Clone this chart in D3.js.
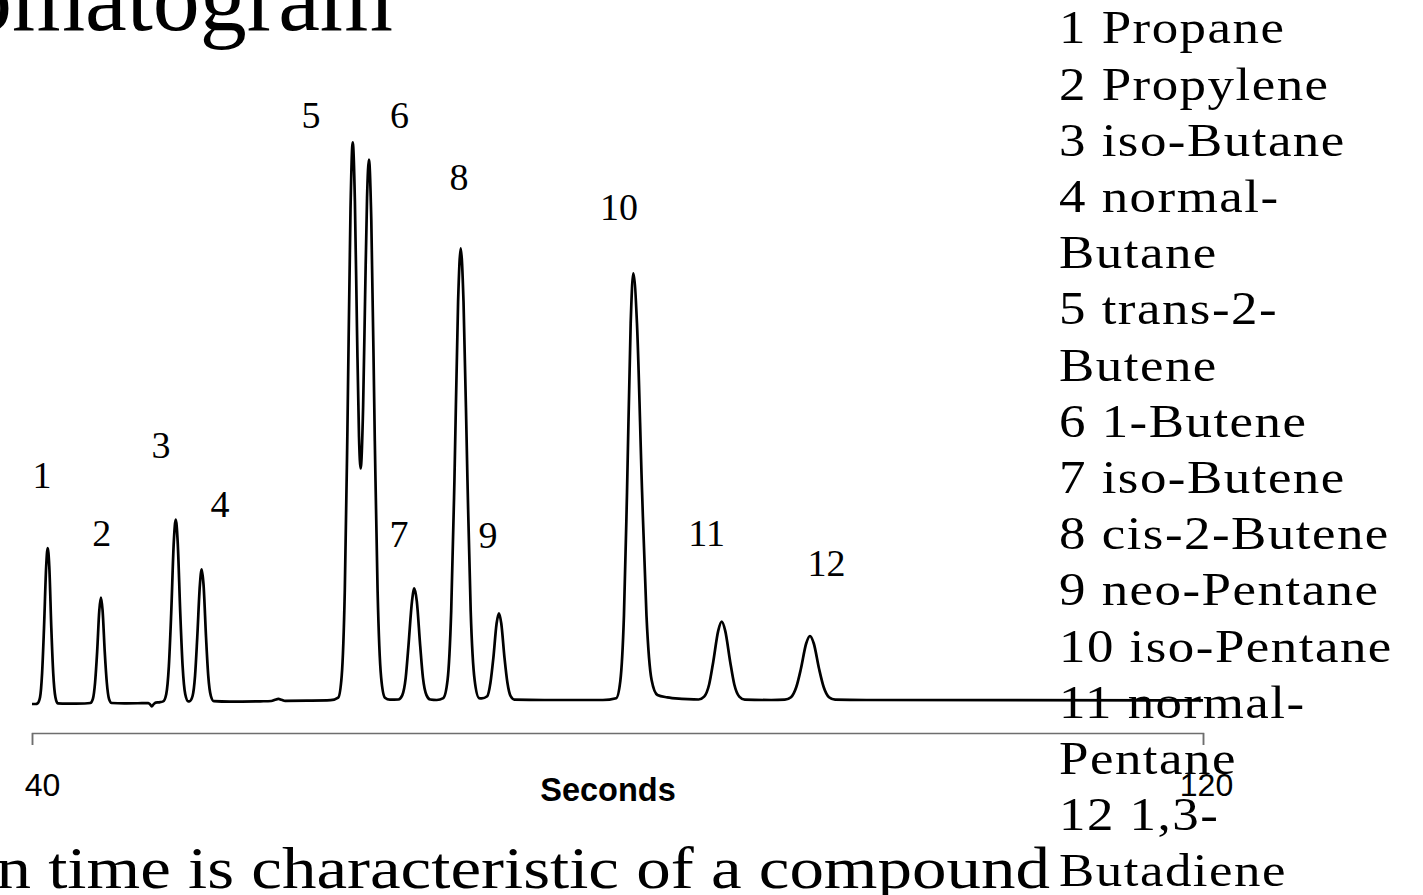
<!DOCTYPE html>
<html>
<head>
<meta charset="utf-8">
<script src="https://cdn.jsdelivr.net/npm/d3@7"></script>
<style>
  html, body { margin: 0; padding: 0; background: #fff; overflow: hidden; }
  svg { display: block; }
</style>
</head>
<body>
<svg id="chart" width="1423" height="895"></svg>
<script>
// Detector trace: [retention time (s), response]
const trace = [
  [40.00, 0], [40.25, 0],
  [40.38, 0.7], [40.55, 6.8], [40.69, 30.9], [40.82, 75.9], [40.97, 137.7], [41.07, 156],
  [41.18, 137.7], [41.32, 75.9], [41.45, 30.9], [41.60, 6.8], [41.76, 0.7],
  [42.40, 0.3], [43.60, 0.5],
  [43.98, 1.0], [44.16, 5.2], [44.31, 21.5], [44.45, 52.1], [44.60, 94.0], [44.71, 106.5],
  [44.82, 94.0], [44.97, 52.1], [45.11, 21.5], [45.26, 5.2], [45.44, 1.0],
  [46.30, 0.6], [47.50, 0.8],
  [47.95, 0.9], [48.08, -0.6], [48.18, -2.3], [48.30, -0.4], [48.45, 1.4], [48.70, 1.7],
  [48.96, 2.6], [49.17, 9.8], [49.35, 37.9], [49.51, 90.6], [49.69, 162.9], [49.82, 184.3],
  [49.95, 162.9], [50.13, 90.6], [50.29, 37.9], [50.47, 9.8], [50.68, 2.6],
  [50.77, 2.8], [50.97, 8.0], [51.14, 28.4], [51.29, 66.7], [51.47, 119.1], [51.59, 134.7],
  [51.72, 119.1], [51.89, 66.7], [52.04, 28.4], [52.22, 8.0], [52.42, 2.8],
  [53.50, 2.3], [55.60, 2.7],
  [56.35, 3.0], [56.60, 4.2], [56.83, 5.2], [57.05, 4.2], [57.30, 3.1],
  [58.80, 3.3], [60.40, 3.8],
  [60.92, 6.4], [61.16, 28.4], [61.37, 114], [61.55, 274.5], [61.76, 494.8], [61.91, 561.6],
  [62.06, 502.2], [62.20, 377], [62.34, 267.5], [62.45, 235.5], [62.62, 296.8], [62.76, 409.8],
  [62.89, 506.2], [63.02, 544.4], [63.18, 483.9], [63.42, 263], [63.61, 113.2], [63.85, 26.8],
  [64.11, 6.3], [64.45, 4.3],
  [65.03, 4.5], [65.30, 8.9], [65.53, 26.1], [65.72, 58.4], [65.96, 102.6], [66.12, 115.7],
  [66.29, 102.6], [66.52, 58.4], [66.71, 26.1], [66.95, 8.9], [67.21, 4.5],
  [67.65, 4.0],
  [68.10, 5.9], [68.39, 23.8], [68.64, 93.4], [68.86, 223.9], [69.11, 402.6], [69.29, 455.7],
  [69.48, 402.6], [69.75, 223.9], [69.97, 93.4], [70.24, 23.8], [70.54, 5.9],
  [70.72, 5.6],
  [71.10, 7.8], [71.32, 21.2], [71.52, 46.2], [71.74, 80.5], [71.90, 90.7],
  [72.06, 80.5], [72.28, 46.2], [72.48, 21.2], [72.70, 7.8], [72.96, 4.4],
  [75.00, 4.0], [79.00, 4.0],
  [79.91, 5.8], [80.19, 22.7], [80.44, 88.4], [80.65, 211.7], [80.90, 380.6], [81.08, 430.7],
  [81.33, 380.6], [81.68, 211.7], [81.98, 88.4], [82.33, 24.0], [82.73, 9.0],
  [83.40, 6.6], [84.40, 5.2], [85.20, 4.6],
  [85.54, 4.5], [85.92, 7.4], [86.26, 19.5], [86.54, 42.1], [86.88, 73.1], [87.12, 82.3],
  [87.36, 73.1], [87.70, 42.1], [87.98, 19.5], [88.32, 7.4], [88.70, 4.3],
  [90.50, 4.0],
  [91.43, 4.3], [91.85, 6.8], [92.21, 16.7], [92.53, 35.2], [92.89, 60.5], [93.15, 68.0],
  [93.41, 60.5], [93.77, 35.2], [94.09, 16.7], [94.45, 6.8], [94.87, 4.3],
  [97.00, 4.0], [120.00, 3.7]
];

// Peak numbers and where each number sits (time, response)
const peakNumbers = [1, 2, 3, 4, 5, 6, 7, 8, 9, 10, 11, 12];
const peakLabelTime = [40.68, 44.76, 48.81, 52.84, 59.06, 65.11, 65.07, 69.17, 71.15, 80.10, 86.09, 94.28];
const peakLabelResponse = [216, 158, 246, 187, 576, 576, 157, 514, 156, 484, 158, 128];

// Compound identified by each peak
const compounds = [
  "Propane", "Propylene", "iso-Butane", "normal-Butane", "trans-2-Butene", "1-Butene",
  "iso-Butene", "cis-2-Butene", "neo-Pentane", "iso-Pentane", "normal-Pentane", "1,3-Butadiene"
];

const axisTicks = [40, 120];
const axisTitle = "Seconds";
const titleText = "Chromatogram";
const captionText = "Retention time is characteristic of a compound";

const svg = d3.select("#chart");

const x = d3.scaleLinear().domain([40, 120]).range([32, 1203]);
const y = d3.scaleLinear().domain([0, 600]).range([704, 104]);

const serif = "'Liberation Serif', 'Times New Roman', serif";
const sans = "'Liberation Sans', Arial, sans-serif";

// Slide title and caption (run off the edges of the view)
svg.append("text")
  .attr("x", 393).attr("y", 30)
  .attr("text-anchor", "end")
  .attr("font-family", serif)
  .attr("font-size", 94)
  .attr("fill", "#000")
  .text(titleText);

svg.append("g")
  .attr("transform", "translate(1050,888) scale(1.15,1)")
  .append("text")
  .attr("x", 0).attr("y", 0)
  .attr("text-anchor", "end")
  .attr("font-family", serif)
  .attr("font-size", 60)
  .attr("fill", "#000")
  .text(captionText);

// Legend: numbered compound list, long names broken after the last hyphen
const legendLines = [];
compounds.forEach((name, i) => {
  const full = `${peakNumbers[i]} ${name}`;
  if (full.length > 14) {
    const cut = full.lastIndexOf("-") + 1;
    legendLines.push(full.slice(0, cut), full.slice(cut));
  } else {
    legendLines.push(full);
  }
});

svg.append("g")
  .attr("transform", "translate(1059,0) scale(1.15,1)")
  .selectAll("text")
  .data(legendLines)
  .join("text")
  .attr("x", 0)
  .attr("y", (d, i) => 43.5 + i * 56.2)
  .attr("font-family", serif)
  .attr("font-size", 46)
  .attr("letter-spacing", 1.3)
  .attr("fill", "#000")
  .text(d => d);

// Time axis
const axis = d3.axisBottom(x)
  .tickValues(axisTicks)
  .tickSize(12)
  .tickFormat(d3.format("d"));

const gAxis = svg.append("g")
  .attr("transform", "translate(0,733)")
  .call(axis);

gAxis.select(".domain").attr("stroke", "#6e6e6e").attr("stroke-width", 1.5);
gAxis.selectAll(".tick line").attr("stroke", "#6e6e6e").attr("stroke-width", 1.5);
gAxis.selectAll(".tick text")
  .attr("y", 63).attr("dy", 0)
  .attr("dx", d => d === axisTicks[0] ? 10 : 3)
  .attr("font-family", sans)
  .attr("font-size", 32)
  .attr("fill", "#000");

svg.append("text")
  .attr("x", 608).attr("y", 801)
  .attr("text-anchor", "middle")
  .attr("font-family", sans)
  .attr("font-weight", "bold")
  .attr("font-size", 32.5)
  .attr("fill", "#000")
  .text(axisTitle);

// Chromatogram trace
const line = d3.line()
  .x(d => x(d[0]))
  .y(d => y(d[1]))
  .curve(d3.curveMonotoneX);

svg.append("path")
  .datum(trace)
  .attr("d", line)
  .attr("fill", "none")
  .attr("stroke", "#000")
  .attr("stroke-width", 2.7)
  .attr("stroke-linejoin", "round");

// Peak numbers
svg.append("g")
  .selectAll("text")
  .data(peakNumbers)
  .join("text")
  .attr("x", (d, i) => x(peakLabelTime[i]))
  .attr("y", (d, i) => y(peakLabelResponse[i]))
  .attr("text-anchor", "middle")
  .attr("font-family", serif)
  .attr("font-size", 38)
  .attr("fill", "#000")
  .text(d => d);
</script>
</body>
</html>
